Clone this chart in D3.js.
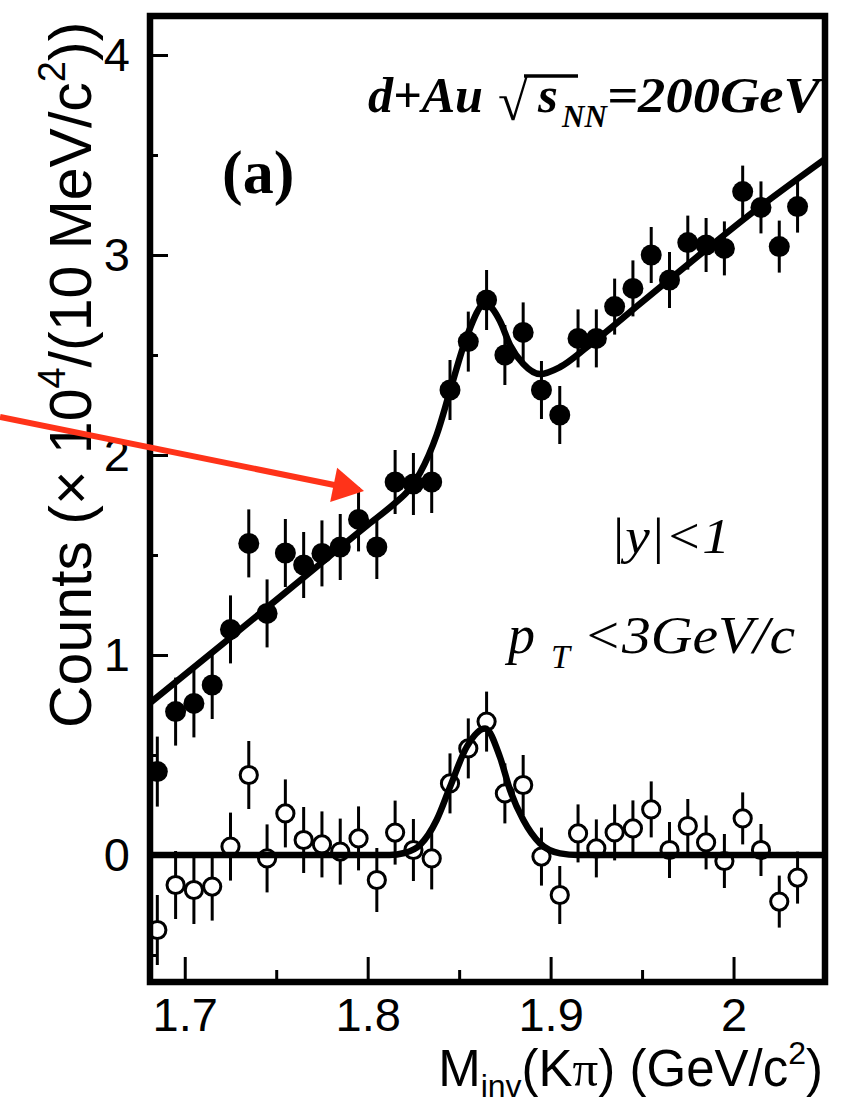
<!DOCTYPE html>
<html>
<head>
<meta charset="utf-8">
<script src="https://cdn.jsdelivr.net/npm/d3@7"></script>
<style>
  body { margin: 0; background: #fff; }
  svg { display: block; }
</style>
</head>
<body>
<div id="container"></div>
<script>
// bin centres, M_inv(K pi) in GeV/c^2 (10 MeV bins)
let massBins = [1.685, 1.695, 1.705, 1.715, 1.725, 1.735, 1.745, 1.755, 1.765, 1.775, 1.785, 1.795,
                1.805, 1.815, 1.825, 1.835, 1.845, 1.855, 1.865, 1.875, 1.885, 1.895, 1.905, 1.915,
                1.925, 1.935, 1.945, 1.955, 1.965, 1.975, 1.985, 1.995, 2.005, 2.015, 2.025, 2.035];

// same-event counts (x 10^4), filled circles
let totalCounts = [0.417, 0.717, 0.758, 0.85, 1.128, 1.558, 1.208, 1.51, 1.45, 1.508, 1.54, 1.678,
                   1.54, 1.865, 1.855, 1.865, 2.325, 2.567, 2.775, 2.5, 2.613, 2.325, 2.2, 2.583,
                   2.583, 2.742, 2.833, 3.0, 2.875, 3.062, 3.05, 3.033, 3.317, 3.238, 3.042, 3.242];

// background subtracted counts (x 10^4), open circles
let subtracted = [-0.375, -0.15, -0.175, -0.158, 0.042, 0.4, -0.017, 0.208, 0.075, 0.053, 0.017, 0.083,
                  -0.125, 0.112, 0.025, -0.017, 0.358, 0.533, 0.667, 0.308, 0.35, -0.008, -0.2, 0.108,
                  0.033, 0.113, 0.133, 0.228, 0.025, 0.145, 0.063, -0.03, 0.183, 0.025, -0.233, -0.113];

// statistical errors (same for both sets)
let errors = [0.175, 0.17, 0.17, 0.17, 0.17, 0.17, 0.17, 0.17, 0.165, 0.165, 0.165, 0.16,
              0.16, 0.16, 0.155, 0.155, 0.15, 0.15, 0.15, 0.15, 0.15, 0.145, 0.145, 0.145,
              0.145, 0.14, 0.14, 0.14, 0.14, 0.135, 0.135, 0.135, 0.13, 0.13, 0.13, 0.13];

// fit curves: [mass, counts]
let totalFit = [[1.681, 0.76], [1.72, 1.05], [1.76, 1.35], [1.80, 1.65], [1.815, 1.76], [1.822, 1.82],
                [1.8286, 1.91], [1.8377, 2.10], [1.845, 2.32], [1.8541, 2.59], [1.8642, 2.757],
                [1.8723, 2.67], [1.8778, 2.55], [1.8851, 2.455], [1.8942, 2.405], [1.9052, 2.44],
                [1.92, 2.54], [1.95, 2.765], [1.98, 2.99], [2.01, 3.21], [2.05, 3.48]];

let signalFit = [[1.681, 0], [1.812, 0], [1.820, 0.01], [1.8286, 0.05], [1.8377, 0.175], [1.845, 0.34],
                 [1.8541, 0.54], [1.8642, 0.633], [1.8723, 0.49], [1.8778, 0.325], [1.8851, 0.175],
                 [1.8942, 0.058], [1.9052, 0.008], [1.915, 0], [2.05, 0]];

let xTicks = [1.7, 1.8, 1.9, 2.0];
let xTickLabels = ["1.7", "1.8", "1.9", "2"];
let xMinorTicks = [1.75, 1.85, 1.95];
let yTicks = [0, 1, 2, 3, 4];
let yTickLabels = ["0", "1", "2", "3", "4"];
let yMinorTicks = [-0.5, 0.5, 1.5, 2.5, 3.5];

// red arrow, data coordinates
let arrowFrom = [1.599, 2.19];
let arrowTo = [1.798, 1.82];

let w = 841;
let h = 1103;
let plotLeft = 150;
let plotRight = 825;
let plotTop = 16;
let plotBottom = 982;

let viz = d3.select("#container")
              .append("svg")
              .attr("width", w)
              .attr("height", h)
              .style("background", "white")
;

let xScale = d3.scaleLinear().domain([1.681, 2.05]).range([plotLeft, plotRight]);
let yScale = d3.scaleLinear().domain([-0.635, 4.195]).range([plotBottom, plotTop]);

viz.append("defs").append("clipPath").attr("id", "plotclip")
   .append("rect")
   .attr("x", plotLeft).attr("y", plotTop)
   .attr("width", plotRight - plotLeft).attr("height", plotBottom - plotTop);

let sansFont = "'Liberation Sans', Arial, Helvetica, sans-serif";
let serifFont = "'Liberation Serif', 'Times New Roman', serif";

// axes (ticks point inward)
let xAxis = d3.axisBottom(xScale).tickValues(xTicks).tickSize(-25).tickPadding(16)
              .tickFormat(function(d, i) { return xTickLabels[i]; });
let xAxisGroup = viz.append("g")
                      .attr("class", "xaxisgroup")
                      .attr("transform", "translate(0," + plotBottom + ")")
;
xAxisGroup.call(xAxis);

let xMinor = d3.axisBottom(xScale).tickValues(xMinorTicks).tickSize(-12).tickFormat("");
viz.append("g").attr("transform", "translate(0," + plotBottom + ")").call(xMinor);

let yAxis = d3.axisLeft(yScale).tickValues(yTicks).tickSize(-18).tickPadding(20)
              .tickFormat(function(d, i) { return yTickLabels[i]; });
let yAxisGroup = viz.append("g")
                      .attr("class", "yaxisgroup")
                      .attr("transform", "translate(" + plotLeft + ",0)")
;
yAxisGroup.call(yAxis);

let yMinor = d3.axisLeft(yScale).tickValues(yMinorTicks).tickSize(-8).tickFormat("");
viz.append("g").attr("transform", "translate(" + plotLeft + ",0)").call(yMinor);

viz.selectAll(".domain").remove();
viz.selectAll(".tick line").attr("stroke", "black").attr("stroke-width", 3);
viz.selectAll(".tick text")
   .attr("fill", "black")
   .style("font-family", sansFont)
   .style("font-size", "47px");

// data
let filled = massBins.map(function(m, i) { return {m: m, v: totalCounts[i], e: errors[i]}; });
let open = massBins.map(function(m, i) { return {m: m, v: subtracted[i], e: errors[i]}; });

let dataGroup = viz.append("g").attr("clip-path", "url(#plotclip)");

function errorBars(data) {
  dataGroup.append("g").selectAll("line").data(data).enter()
           .append("line")
           .attr("x1", function(d) { return xScale(d.m); })
           .attr("x2", function(d) { return xScale(d.m); })
           .attr("y1", function(d) { return yScale(d.v - d.e); })
           .attr("y2", function(d) { return yScale(d.v + d.e); })
           .attr("stroke", "black")
           .attr("stroke-width", 3)
  ;
}
errorBars(filled);
errorBars(open);

dataGroup.append("g").selectAll("circle").data(filled).enter()
         .append("circle")
         .attr("cx", function(d) { return xScale(d.m); })
         .attr("cy", function(d) { return yScale(d.v); })
         .attr("r", 10.5)
         .attr("fill", "black")
;

dataGroup.append("g").selectAll("circle").data(open).enter()
         .append("circle")
         .attr("cx", function(d) { return xScale(d.m); })
         .attr("cy", function(d) { return yScale(d.v); })
         .attr("r", 8.6)
         .attr("fill", "white")
         .attr("stroke", "black")
         .attr("stroke-width", 3)
;

// fit curves
let lineMaker = d3.line()
                    .x(function(d) { return xScale(d[0]); })
                    .y(function(d) { return yScale(d[1]); })
                    .curve(d3.curveMonotoneX)
;
[totalFit, signalFit].forEach(function(fit) {
  dataGroup.append("path")
           .attr("d", lineMaker(fit))
           .attr("fill", "none")
           .attr("stroke", "black")
           .attr("stroke-width", 6.5)
           .attr("stroke-linejoin", "round")
  ;
});

// frame
viz.append("rect")
   .attr("x", plotLeft).attr("y", plotTop)
   .attr("width", plotRight - plotLeft).attr("height", plotBottom - plotTop)
   .attr("fill", "none")
   .attr("stroke", "black")
   .attr("stroke-width", 6.5)
;

// axis titles
let xTitle = viz.append("text")
                  .attr("x", 823).attr("y", 1086)
                  .attr("text-anchor", "end")
                  .style("font-family", sansFont)
                  .style("font-size", "51px")
;
xTitle.append("tspan").text("M");
xTitle.append("tspan").attr("dy", 11).style("font-size", "32px").text("inv");
xTitle.append("tspan").attr("dy", -11).text("(K");
xTitle.append("tspan").style("font-family", serifFont).text("π");
xTitle.append("tspan").text(") (GeV/c");
xTitle.append("tspan").attr("dy", -22).style("font-size", "32px").text("2");
xTitle.append("tspan").attr("dy", 22).text(")");

let yTitle = viz.append("text")
                  .attr("transform", "translate(91,728) rotate(-90)")
                  .attr("text-anchor", "start")
                  .style("font-family", sansFont)
                  .style("font-size", "59px")
;
yTitle.append("tspan").text("Counts (× 10");
yTitle.append("tspan").attr("dy", -26).style("font-size", "38px").text("4");
yTitle.append("tspan").attr("dy", 26).text("/(10 MeV/c");
yTitle.append("tspan").attr("dy", -26).style("font-size", "38px").text("2");
yTitle.append("tspan").attr("dy", 26).text("))");

// annotations
let bi = { "font-family": serifFont, "font-weight": "bold", "font-style": "italic" };
function label(x, y, size, str, styles) {
  let t = viz.append("text").attr("x", x).attr("y", y).style("font-size", size + "px").text(str);
  Object.keys(styles).forEach(function(k) { t.style(k, styles[k]); });
  return t;
}
label(368, 112, 51, "d+Au", bi).attr("textLength", 115).attr("lengthAdjust", "spacingAndGlyphs");
let rad = label(498, 120, 54, "√", { "font-family": serifFont, "font-weight": "bold" });
label(538, 112, 51, "s", bi);
label(562, 127, 31, "NN", bi);
label(607, 112, 51, "=200GeV", bi).attr("textLength", 213).attr("lengthAdjust", "spacingAndGlyphs");
let rb = rad.node().getBBox();
viz.append("line")
   .attr("x1", rb.x + rb.width - 4).attr("x2", 578)
   .attr("y1", 76).attr("y2", 76)
   .attr("stroke", "black").attr("stroke-width", 3.5);

label(222, 193, 62, "(a)", { "font-family": serifFont, "font-weight": "bold" });

let it = { "font-family": serifFont, "font-style": "italic" };
label(610, 553, 50, "|y|<1", it).attr("textLength", 120).attr("lengthAdjust", "spacingAndGlyphs");
label(508, 653, 54, "p", it);
label(551, 668, 34, "T", it);
label(583, 653, 52, "<3GeV/c", it).attr("textLength", 212).attr("lengthAdjust", "spacingAndGlyphs");

// red arrow
let ax0 = xScale(arrowFrom[0]), ay0 = yScale(arrowFrom[1]);
let ax1 = xScale(arrowTo[0]), ay1 = yScale(arrowTo[1]);
let ang = Math.atan2(ay1 - ay0, ax1 - ax0);
let headLen = 31, headHalf = 17.5;
let bx = ax1 - headLen * Math.cos(ang), by = ay1 - headLen * Math.sin(ang);
viz.append("line")
   .attr("x1", ax0).attr("y1", ay0)
   .attr("x2", bx + 2 * Math.cos(ang)).attr("y2", by + 2 * Math.sin(ang))
   .attr("stroke", "#ff3319").attr("stroke-width", 6);
viz.append("polygon")
   .attr("points", [
     [ax1, ay1],
     [bx - headHalf * Math.sin(ang), by + headHalf * Math.cos(ang)],
     [bx + headHalf * Math.sin(ang), by - headHalf * Math.cos(ang)]
   ].map(function(p) { return p.join(","); }).join(" "))
   .attr("fill", "#ff3319");
</script>
</body>
</html>
